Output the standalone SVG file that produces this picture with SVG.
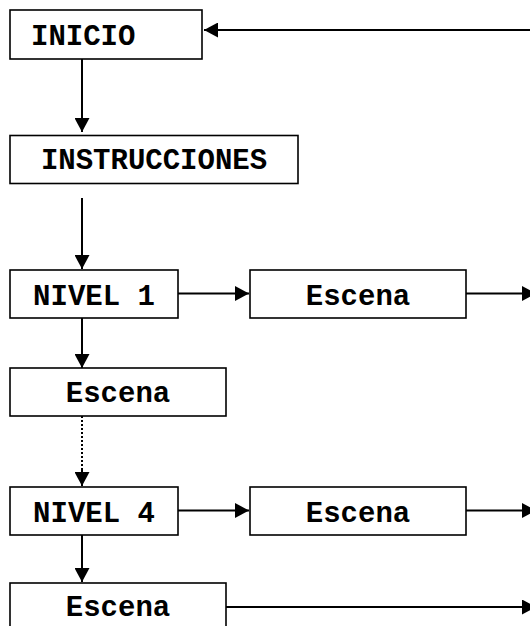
<svg xmlns="http://www.w3.org/2000/svg" width="530" height="626" viewBox="0 0 530 626">
<style>
.box{fill:#fff;stroke:#000;stroke-width:1.6}
.t{font-family:"Courier New","Nimbus Mono PS","FreeMono","Liberation Mono",monospace;font-weight:bold;font-size:29px;fill:#000}
.c{text-anchor:middle}
.ln{fill:none;stroke:#000;stroke-width:2}
.dot{stroke-dasharray:2 2}
</style>
<defs>
<marker id="ah" markerUnits="userSpaceOnUse" markerWidth="14" markerHeight="15" viewBox="0 0 14 15" refX="14" refY="7.5" orient="auto">
<path d="M0,0 L14,7.5 L0,15 Z" fill="#000"/>
</marker>
</defs>
<rect width="530" height="626" fill="#fff"/>
<g id="connectors">
<line class="ln" x1="530" y1="30" x2="204" y2="30" marker-end="url(#ah)"/>
<line class="ln" x1="82" y1="59" x2="82" y2="132" marker-end="url(#ah)"/>
<line class="ln" x1="82" y1="198" x2="82" y2="269" marker-end="url(#ah)"/>
<line class="ln" x1="178" y1="293.5" x2="249" y2="293.5" marker-end="url(#ah)"/>
<line class="ln" x1="466" y1="293.5" x2="536" y2="293.5" marker-end="url(#ah)"/>
<line class="ln" x1="82" y1="318" x2="82" y2="368" marker-end="url(#ah)"/>
<line class="ln dot" x1="82" y1="416" x2="82" y2="472"/>
<line class="ln" x1="82" y1="470" x2="82" y2="486" marker-end="url(#ah)"/>
<line class="ln" x1="178" y1="510.5" x2="249" y2="510.5" marker-end="url(#ah)"/>
<line class="ln" x1="466" y1="510.5" x2="536" y2="510.5" marker-end="url(#ah)"/>
<line class="ln" x1="82" y1="535" x2="82" y2="582" marker-end="url(#ah)"/>
<line class="ln" x1="226" y1="607" x2="536" y2="607" marker-end="url(#ah)"/>
</g>
<g id="inicio">
<rect class="box" x="10" y="10" width="192" height="49"/>
<text class="t" x="31" y="45">INICIO</text>
</g>
<g id="instrucciones">
<rect class="box" x="10" y="135.5" width="288" height="48"/>
<text class="t c" x="154" y="168.5">INSTRUCCIONES</text>
</g>
<g id="nivel1">
<rect class="box" x="10" y="270" width="168" height="48"/>
<text class="t c" x="94" y="305">NIVEL 1</text>
</g>
<g id="escena1">
<rect class="box" x="250" y="270" width="216" height="48"/>
<text class="t c" x="358" y="305">Escena</text>
</g>
<g id="escena2">
<rect class="box" x="10" y="368" width="216" height="48"/>
<text class="t c" x="118" y="402">Escena</text>
</g>
<g id="nivel4">
<rect class="box" x="10" y="487" width="168" height="48"/>
<text class="t c" x="94" y="522">NIVEL 4</text>
</g>
<g id="escena3">
<rect class="box" x="250" y="487" width="216" height="48"/>
<text class="t c" x="358" y="522">Escena</text>
</g>
<g id="escena4">
<rect class="box" x="10" y="583" width="216" height="60"/>
<text class="t c" x="118" y="616">Escena</text>
</g>
</svg>
